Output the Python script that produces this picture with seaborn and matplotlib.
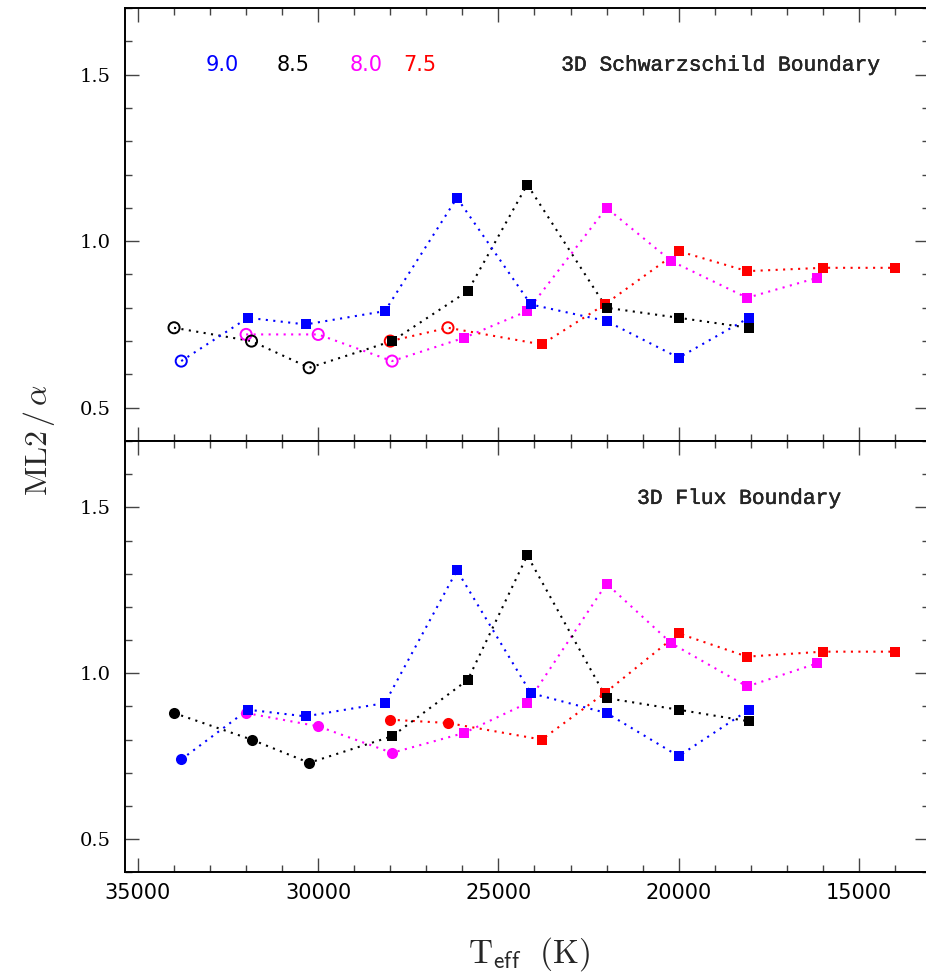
import matplotlib
matplotlib.use("Agg")
import matplotlib.pyplot as plt
import matplotlib.patheffects as pe
from matplotlib.ticker import MultipleLocator
import seaborn as sns

# log g labels and their colours
logg = ["9.0", "8.5", "8.0", "7.5"]
colors = ["#0000ff", "#000000", "#ff00ff", "#ff0000"]

# Teff grid of each log g sequence (hot end first)
teff_90 = [33800, 31950, 30350, 28150, 26150, 24100, 22000, 20000, 18050]
teff_85 = [34000, 31850, 30250, 27950, 25850, 24200, 22000, 20000, 18050]
teff_80 = [32000, 30000, 27950, 25950, 24200, 22000, 20200, 18100, 16150]
teff_75 = [28000, 26400, 23800, 22050, 20000, 18100, 16000, 14000]

# how many of the hottest points are drawn as circles (rest are squares)
n_circles = [1, 3, 3, 2]

# ML2/alpha, 3D Schwarzschild boundary (top)
sch_90 = [0.64, 0.77, 0.75, 0.79, 1.13, 0.81, 0.76, 0.65, 0.77]
sch_85 = [0.74, 0.70, 0.62, 0.70, 0.85, 1.17, 0.80, 0.77, 0.74]
sch_80 = [0.72, 0.72, 0.64, 0.71, 0.79, 1.10, 0.94, 0.83, 0.89]
sch_75 = [0.70, 0.74, 0.69, 0.81, 0.97, 0.91, 0.92, 0.92]

# ML2/alpha, 3D flux boundary (bottom)
flux_90 = [0.74, 0.89, 0.87, 0.91, 1.31, 0.94, 0.88, 0.75, 0.89]
flux_85 = [0.88, 0.80, 0.73, 0.81, 0.98, 1.355, 0.925, 0.89, 0.855]
flux_80 = [0.88, 0.84, 0.76, 0.82, 0.91, 1.27, 1.09, 0.96, 1.03]
flux_75 = [0.86, 0.85, 0.80, 0.94, 1.12, 1.05, 1.065, 1.065]

teffs = [teff_90, teff_85, teff_80, teff_75]
sch = [sch_90, sch_85, sch_80, sch_75]
flux = [flux_90, flux_85, flux_80, flux_75]

sns.set_theme(style="ticks")
plt.rcParams["font.family"] = ["DejaVu Serif"]
plt.rcParams["mathtext.fontset"] = "cm"

fig = plt.figure(figsize=(9.26, 9.77), dpi=100)
ax1 = fig.add_axes([0.135, 0.5486, 0.868, 0.4432])
ax2 = fig.add_axes([0.135, 0.1072, 0.868, 0.4414])


def draw_panel(ax, values, open_circles):
    # red first, blue last (blue ends up on top)
    for i in [3, 2, 1, 0]:
        t, v, c, n = teffs[i], values[i], colors[i], n_circles[i]
        sns.lineplot(x=t, y=v, color=c, sort=False, estimator=None,
                     linestyle=(0, (1, 2.6)), linewidth=1.5, ax=ax)
        if open_circles:
            sns.scatterplot(x=t[:n], y=v[:n], marker="o", s=64,
                            facecolors="none", edgecolor=c, linewidth=1.4,
                            zorder=3, ax=ax)
        else:
            sns.scatterplot(x=t[:n], y=v[:n], marker="o", s=64, color=c,
                            linewidth=0, zorder=3, ax=ax)
        sns.scatterplot(x=t[n:], y=v[n:], marker="s", s=48, color=c,
                        linewidth=0, zorder=3, ax=ax)


draw_panel(ax1, sch, True)
draw_panel(ax2, flux, False)

for ax in (ax1, ax2):
    ax.set_xlim(35360, 13060)
    ax.set_ylim(0.4, 1.7)
    ax.xaxis.set_major_locator(MultipleLocator(5000))
    ax.xaxis.set_minor_locator(MultipleLocator(1000))
    ax.yaxis.set_major_locator(MultipleLocator(0.5))
    ax.yaxis.set_minor_locator(MultipleLocator(0.1))
    ax.tick_params(which="both", direction="in", top=True, right=True,
                   color="#444444", width=1.0, labelcolor="black")
    ax.tick_params(which="major", length=10)
    ax.tick_params(which="minor", length=5)
    ax.tick_params(axis="y", labelsize=14, pad=10)
    ax.tick_params(axis="x", labelsize=15, pad=8)
    for sp in ax.spines.values():
        sp.set_linewidth(1.4)
        sp.set_color("black")
    ax.set_xlabel("")
    ax.set_ylabel("")

ax1.tick_params(labelbottom=False)
for lbl in ax2.get_xticklabels():
    lbl.set_fontfamily("DejaVu Sans")

# log g key
key_x = [0.121, 0.209, 0.300, 0.367]
for lab, c, xx in zip(logg, colors, key_x):
    ax1.text(xx, 0.868, lab, color=c, fontsize=15, family="DejaVu Sans",
             ha="center", va="center", transform=ax1.transAxes)

thicken = [pe.withStroke(linewidth=0.3, foreground="black")]
ax1.text(0.741, 0.868, "3D Schwarzschild Boundary", fontsize=15.3,
         family="Liberation Mono", ha="center", va="center",
         transform=ax1.transAxes, path_effects=thicken)
ax2.text(0.764, 0.867, "3D Flux Boundary", fontsize=15.3,
         family="Liberation Mono", ha="center", va="center",
         transform=ax2.transAxes, path_effects=thicken)

fig.text(0.042, 0.55, r"$\mathrm{ML2}\,/\,\alpha$", rotation=90, fontsize=23,
         ha="center", va="center")
fig.text(0.571, 0.024, r"$\mathrm{T}_{\mathsf{eff}}\ \ \mathrm{(K)}$",
         fontsize=24, ha="center", va="center")

fig.savefig("out.png", dpi=100)
